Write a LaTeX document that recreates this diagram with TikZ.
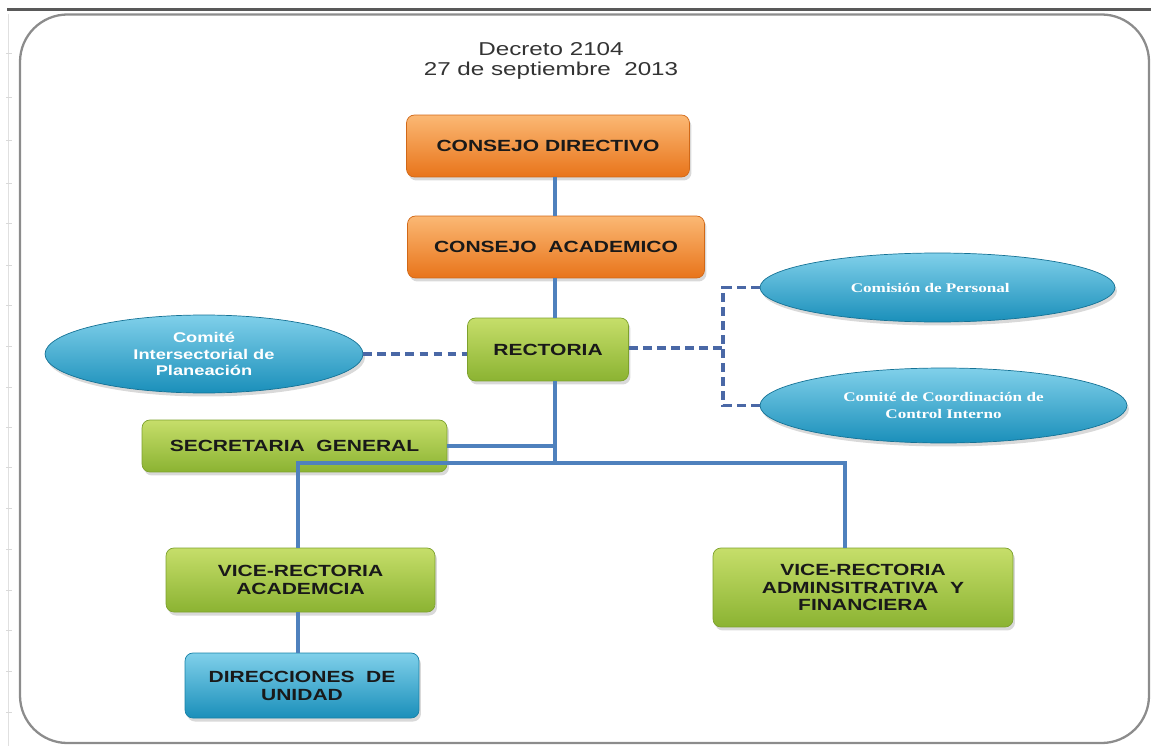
\documentclass[tikz,border=0pt]{standalone}
\usepackage{fontspec}
\setmainfont{Liberation Sans}[FakeStretch=1.3]
\newfontfamily\serifnarrow{Liberation Serif}[FakeStretch=1.3]
\usetikzlibrary{shapes.geometric,shadows}

\definecolor{orangetop}{HTML}{FBB874}
\definecolor{orangebot}{HTML}{E8741A}
\definecolor{greentop}{HTML}{C6DE6A}
\definecolor{greenbot}{HTML}{8BB332}
\definecolor{bluetop}{HTML}{80D0EA}
\definecolor{bluebot}{HTML}{1A8FBA}
\definecolor{linkblue}{HTML}{4F81BD}
\definecolor{dashblue}{HTML}{4A68A6}

\newcommand\boxfont{\bfseries\fontsize{9.2}{10.2}\selectfont}
\newcommand\comitefont{\bfseries\fontsize{8}{9.3}\selectfont}

\tikzstyle{block} = [rectangle, rounded corners=4.5pt, inner sep=2pt,
    align=center, font=\boxfont, text=black!90,
    drop shadow={opacity=0.3, shadow xshift=0.4mm, shadow yshift=-0.7mm}]
\tikzstyle{orangebox} = [block, draw=orangebot!90!black, top color=orangetop, bottom color=orangebot]
\tikzstyle{greenbox} = [block, draw=greenbot!90!black, top color=greentop, bottom color=greenbot]
\tikzstyle{bluebox} = [block, draw=bluebot!90!black, top color=bluetop, bottom color=bluebot]
\tikzstyle{comite} = [ellipse, inner sep=0pt, align=center, text=white,
    draw=bluebot!80!black, top color=bluetop, bottom color=bluebot,
    drop shadow={opacity=0.3, shadow xshift=0.4mm, shadow yshift=-0.7mm}]
\tikzstyle{link} = [draw=linkblue, line width=2.1pt]
\tikzstyle{dashlink} = [draw=dashblue, line width=2pt, dash pattern=on 5pt off 3pt]

\begin{document}
\begin{tikzpicture}[x=0.02cm, y=-0.02cm]
    \useasboundingbox (0,0) rectangle (1151,746);
    % frame and ruler
    \draw [black!65, line width=1.4pt] (7,9.5) -- (1151,9.5);
    \draw [black!12, line width=0.5pt] (8,14) -- (8,746);
    \foreach \y in {53,97,140,183,223,265,305,346,387,427,467,508,549,590,630,671,712}
        \draw [black!15, line width=0.5pt] (6,\y) -- (12,\y);
    \draw [black!45, line width=1.3pt, rounded corners=27pt] (20,14.5) rectangle (1149,743);

    % title
    \node [text=black!80, font=\fontsize{10.6}{11.4}\selectfont, align=center] (titulo) at (551,61)
        {Decreto 2104\\27 de septiembre\ \ 2013};

    \node [orangebox, minimum width=5.66cm, minimum height=1.24cm] (directivo) at (548,146) {CONSEJO DIRECTIVO};
    \node [orangebox, minimum width=5.94cm, minimum height=1.24cm] (academico) at (556,247) {CONSEJO\ \ ACADEMICO};
    \node [greenbox, minimum width=3.22cm, minimum height=1.26cm] (rectoria) at (548,349.5) {RECTORIA};
    \node [greenbox, minimum width=6.1cm, minimum height=1.04cm] (secretaria) at (294.5,446) {SECRETARIA\ \ GENERAL};
    \node [greenbox, minimum width=5.38cm, minimum height=1.28cm] (viceacad) at (300.5,580) {VICE-RECTORIA\\ACADEMCIA};
    \node [greenbox, minimum width=6cm, minimum height=1.58cm] (viceadmin) at (863,587.5) {VICE-RECTORIA\\ADMINSITRATIVA\ \ Y\\FINANCIERA};
    \node [bluebox, minimum width=4.68cm, minimum height=1.3cm] (direcciones) at (302,685.5) {DIRECCIONES\ \ DE\\UNIDAD};

    \node [comite, minimum width=6.36cm, minimum height=1.56cm, font=\comitefont] (planeacion) at (204,354)
        {Comité\\Intersectorial de\\Planeación};
    \node [comite, minimum width=7.1cm, minimum height=1.38cm, font=\serifnarrow\bfseries\fontsize{7.5}{9}\selectfont] (personal) at (937.5,287.5)
        {\hspace*{-1.1em}Comisión de Personal};
    \node [comite, minimum width=7.34cm, minimum height=1.5cm, font=\serifnarrow\bfseries\fontsize{7.5}{9.6}\selectfont] (control) at (943.5,405.5)
        {Comité de Coordinación de\\Control Interno};

    \coordinate (hub) at (555,463);
    \coordinate (barL) at (298,463);
    \coordinate (barR) at (845,463);
    \coordinate (split) at (723,348);

    \draw [link] (directivo.south -| hub) -- (academico.north -| hub);
    \draw [link] (academico.south -| hub) -- (rectoria.north -| hub);
    \draw [link] (rectoria.south -| hub) -- (hub);
    \draw [link] (secretaria.east) -- (secretaria.east -| hub);
    \draw [link] (viceacad.north -| barL) -- (barL) -- (barR) -- (viceadmin.north -| barR);
    \draw [link] (viceacad.south -| barL) -- (direcciones.north -| barL);
    \draw [dashlink] (planeacion.east) -- (planeacion.east -| rectoria.west);
    \draw [dashlink] (rectoria.east |- split) -- (split);
    \draw [dashlink] (personal.west) -| (split) |- (control.west);
\end{tikzpicture}
\end{document}
